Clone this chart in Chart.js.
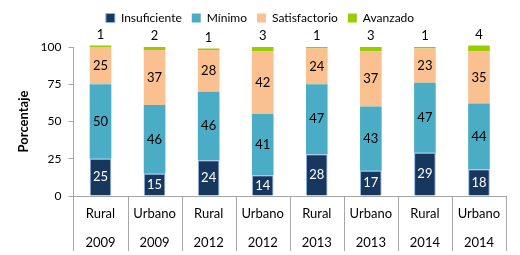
<html>
  <head>
    <script src="https://cdn.jsdelivr.net/npm/chart.js"></script>
    <style>
      body { margin: 0; background: #fff; }
      #wrap { width: 520px; height: 255px; }
    </style>
  </head>
  <body>
  <div id="wrap"><canvas id="myChart"></canvas></div>
    <script>
const zonas = ['Rural', 'Urbano', 'Rural', 'Urbano', 'Rural', 'Urbano', 'Rural', 'Urbano'];
const anios = ['2009', '2009', '2012', '2012', '2013', '2013', '2014', '2014'];
const insuficiente = [25, 15, 24, 14, 28, 17, 29, 18];
const minimo = [50, 46, 46, 41, 47, 43, 47, 44];
const satisfactorio = [25, 37, 28, 42, 24, 37, 23, 35];
const avanzado = [1, 2, 1, 3, 1, 3, 1, 4];
const yTicks = [0, 25, 50, 75, 100];

const FONT = 'Lato';

// mas espacio bajo la leyenda
const legendSpace = {
  id: 'legendSpace',
  beforeInit(chart) {
    const fit = chart.legend.fit;
    chart.legend.fit = function () {
      fit.bind(chart.legend)();
      this.height += 13;
    };
  }
};

// etiquetas dentro de las barras y separadores del eje x
const extras = {
  id: 'extras',
  afterDatasetsDraw(chart) {
    const ctx = chart.ctx;
    ctx.save();
    ctx.font = '13px ' + FONT;
    ctx.textAlign = 'center';
    ctx.textBaseline = 'middle';
    chart.data.datasets.forEach((ds, i) => {
      const meta = chart.getDatasetMeta(i);
      meta.data.forEach((bar, j) => {
        const v = ds.data[j];
        if (i == 3) {
          ctx.fillStyle = '#000';
          ctx.fillText(v, bar.x, bar.y - 11);
        } else {
          ctx.fillStyle = i == 0 ? '#fff' : '#000';
          ctx.fillText(v, bar.x, (bar.y + bar.base) / 2);
        }
      });
    });
    // lineas separadoras de categorias
    const x = chart.scales.x;
    const a = chart.chartArea;
    const n = zonas.length;
    const w = (a.right - a.left) / n;
    ctx.strokeStyle = '#a6a6a6';
    ctx.lineWidth = 1;
    ctx.beginPath();
    for (let k = 0; k <= n; k++) {
      const px = Math.round(a.left + k * w) + 0.5;
      ctx.moveTo(px, a.bottom);
      ctx.lineTo(px, a.bottom + 55);
    }
    ctx.moveTo(a.left, Math.round(a.bottom) + 0.5);
    ctx.lineTo(a.right, Math.round(a.bottom) + 0.5);
    ctx.stroke();
    // textos de dos niveles
    ctx.fillStyle = '#000';
    ctx.font = '13px ' + FONT;
    for (let k = 0; k < n; k++) {
      const cx = x.getPixelForValue(k);
      ctx.fillText(zonas[k], cx, a.bottom + 18);
      ctx.fillText(anios[k], cx, a.bottom + 47);
    }
    ctx.restore();
  }
};

const data = {
  labels: zonas,
  datasets: [
    { label: 'Insuficiente', data: insuficiente, backgroundColor: '#17375E', borderColor: '#8EB4E3', borderWidth: 1 },
    { label: 'Mínimo', data: minimo, backgroundColor: '#4BACC6' },
    { label: 'Satisfactorio', data: satisfactorio, backgroundColor: '#FAC090' },
    { label: 'Avanzado', data: avanzado, backgroundColor: '#99CC00' }
  ]
};

const config = {
  type: 'bar',
  data: data,
  plugins: [legendSpace, extras],
  options: {
    responsive: true,
    maintainAspectRatio: false,
    animation: false,
    clip: false,
    categoryPercentage: 1,
    barPercentage: 0.4,
    layout: { padding: { left: 14, right: 14, top: 2, bottom: 59 } },
    plugins: {
      legend: {
        position: 'top',
        labels: { boxWidth: 9, boxHeight: 9, padding: 10, color: '#000', font: { family: FONT, size: 12 } }
      },
      tooltip: { enabled: false }
    },
    scales: {
      x: {
        display: false,
        stacked: true
      },
      y: {
        stacked: true,
        min: 0,
        max: 100,
        afterBuildTicks: (s) => { s.ticks = yTicks.map(v => ({ value: v })); },
        ticks: { color: '#000', padding: 7, font: { family: FONT, size: 12 } },
        grid: { drawOnChartArea: false, tickLength: 5, color: '#a6a6a6' },
        border: { color: '#a6a6a6' },
        title: { display: true, text: 'Porcentaje', color: '#000', padding: 2, font: { family: FONT, size: 13, weight: 'bold' } }
      }
    }
  }
};

new Chart(document.getElementById('myChart'), config);
    </script>
  </body>
</html>
